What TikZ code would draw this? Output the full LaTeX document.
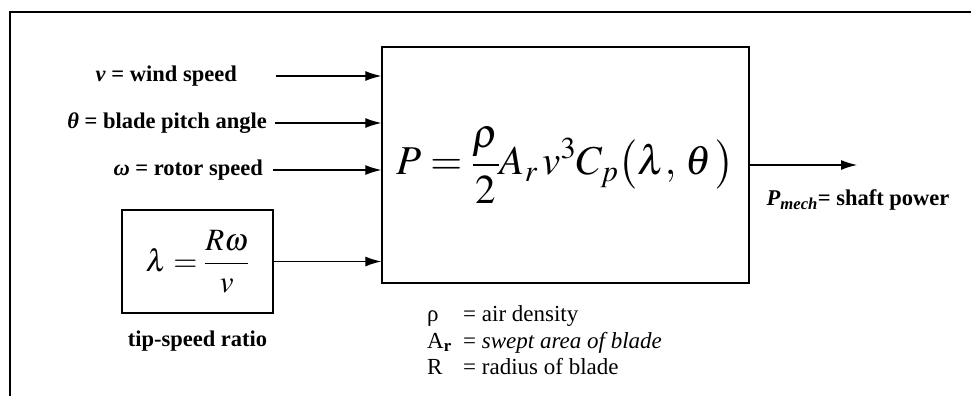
\documentclass[tikz,border=0pt]{standalone}
\usepackage{mathptmx}
\usepackage{fontspec}
\setmainfont{Liberation Serif}
\usetikzlibrary{arrows.meta, positioning}

\begin{document}
\begin{tikzpicture}[
    x=1pt, y=-1pt,
    node distance=17pt,
    block/.style={rectangle, draw, line width=1.4pt, inner sep=0pt},
    inlabel/.style={anchor=east, inner sep=0pt, font=\fontsize{22.5}{26}\selectfont\bfseries},
    outlabel/.style={inner sep=0pt, font=\fontsize{22.5}{26}\selectfont\bfseries},
    arrow/.style={-{Latex[length=16pt, width=10pt]}, line width=1.2pt}
]
    \useasboundingbox (0,0) rectangle (971,396);
    % Rahmen
    \draw[line width=1.4pt] (10,396) -- (10,12) -- (971,12);

    % Bloecke
    \node[block, minimum width=367pt, minimum height=236pt] (turbine) at (565.5,165)
        {\fontsize{41}{48}\selectfont $\displaystyle P=\frac{\rho}{2}A_r\, v^3 C_p\bigl(\lambda,\,\theta\,\bigr)$};
    \node[block, minimum width=151pt, minimum height=103pt] (tsr) at (197.5,261.5)
        {\fontsize{31}{36}\selectfont $\displaystyle \lambda=\frac{R\omega}{v}$};
    \node[outlabel, below=of tsr] (tsrlabel) {tip-speed ratio};

    % Eingaenge
    \node[inlabel] (wind) at (237,76) {\textit{v} = wind speed};
    \node[inlabel] (pitch) at (267,123) {\textit{θ} = blade pitch angle};
    \node[inlabel] (rotor) at (263,170) {\textit{ω} = rotor speed};
    \coordinate (wind in) at (276,76);
    \coordinate (pitch in) at (275,123);
    \coordinate (rotor in) at (273,170);

    % Ausgang
    \coordinate (shaft) at (857,165);
    \node[outlabel] (power) at (858,200) {\textit{P}\textsubscript{\textit{mech}}= shaft power};

    % Legende
    \node[anchor=north west, inner sep=0pt, font=\fontsize{23}{26.5}\selectfont] (legend) at (427,303)
        {\begin{tabular}{@{}p{36pt}@{}l@{}}
            ρ & = air density\\
            A$_{\mathbf{r}}$ & = \textit{swept area of blade}\\
            R & = radius of blade
        \end{tabular}};

    % Pfeile
    \draw[arrow] (wind in) -- (wind in -| turbine.west);
    \draw[arrow] (pitch in) -- (pitch in -| turbine.west);
    \draw[arrow] (rotor in) -- (rotor in -| turbine.west);
    \draw[arrow] (tsr.east) -- (tsr.east -| turbine.west);
    \draw[arrow] (turbine.east) -- (shaft);
\end{tikzpicture}
\end{document}
